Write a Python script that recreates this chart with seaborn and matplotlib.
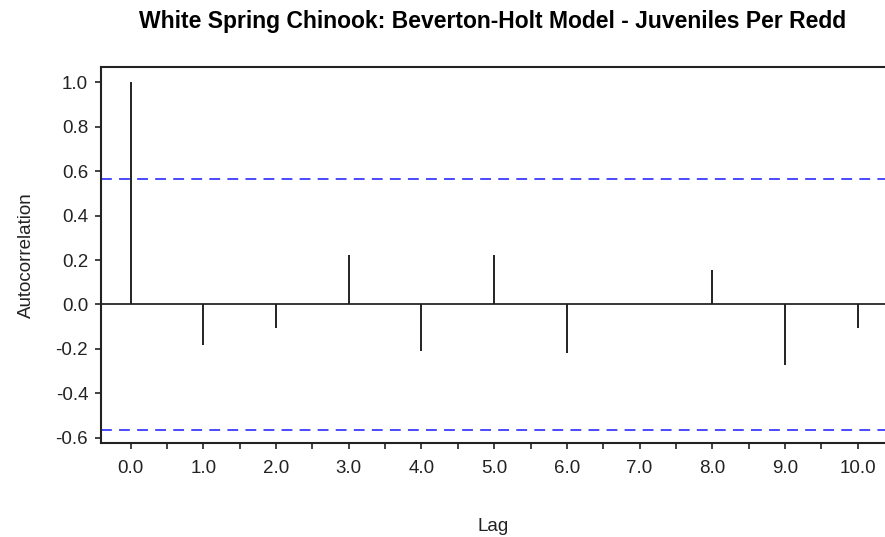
import numpy as np
import pandas as pd
import matplotlib
matplotlib.use("Agg")
import matplotlib.pyplot as plt
import seaborn as sns
from matplotlib.ticker import MultipleLocator, FormatStrFormatter

# ── Data ──────────────────────────────────────────────────────────────────
lags = [0, 1, 2, 3, 4, 5, 6, 7, 8, 9, 10]
acf_values = [1.0, -0.182, -0.104, 0.222, -0.21, 0.222, -0.219, 0.0, 0.153, -0.27, -0.105]
conf_bound = 0.566

title = "White Spring Chinook: Beverton-Holt Model - Juveniles Per Redd"
x_label = "Lag"
y_label = "Autocorrelation"

df = pd.DataFrame({"lag": lags, "acf": acf_values})

sns.set_style("white")
plt.rcParams["font.family"] = ["Liberation Sans", "DejaVu Sans"]
plt.rcParams["axes.unicode_minus"] = False

fig = plt.figure(figsize=(8.85, 5.37), dpi=100)
ax = fig.add_axes([0.1138, 0.175, 0.8862, 0.7002])

# stems + zero line
ax.axhline(0, color="black", lw=1.1, zorder=2)
ax.vlines(df["lag"], 0, df["acf"], color="#222222", lw=1.4, zorder=3)

# confidence bounds
for b in (conf_bound, -conf_bound):
    ax.axhline(b, color="#3b3bff", lw=1.3, linestyle=(0, (6, 4)), zorder=2)

ax.set_xlim(-0.4135, 10.377)
ax.set_ylim(-0.623, 1.068)

ax.xaxis.set_major_locator(MultipleLocator(1))
ax.xaxis.set_minor_locator(MultipleLocator(0.5))
ax.xaxis.set_major_formatter(FormatStrFormatter("%.1f"))
ax.yaxis.set_major_locator(MultipleLocator(0.2))
ax.yaxis.set_major_formatter(FormatStrFormatter("%.1f"))

ax.tick_params(axis="both", which="both", direction="out", length=4, width=1.2,
               color="#222222", labelsize=13.5, labelcolor="#222222")
ax.tick_params(axis="x", which="both", bottom=True, pad=8)
ax.tick_params(axis="y", which="major", left=True, pad=5)

for side in ["left", "bottom", "top"]:
    ax.spines[side].set_color("#222222")
    ax.spines[side].set_linewidth(1.5)
ax.spines["right"].set_visible(False)

ax.set_xlabel(x_label, fontsize=13.5, color="#222222", labelpad=30)
ax.set_ylabel(y_label, fontsize=13.5, color="#222222", labelpad=15)
ax.set_title(title, fontsize=16.5, fontweight="bold", color="black", pad=28)

fig.savefig("out.png", dpi=100)
